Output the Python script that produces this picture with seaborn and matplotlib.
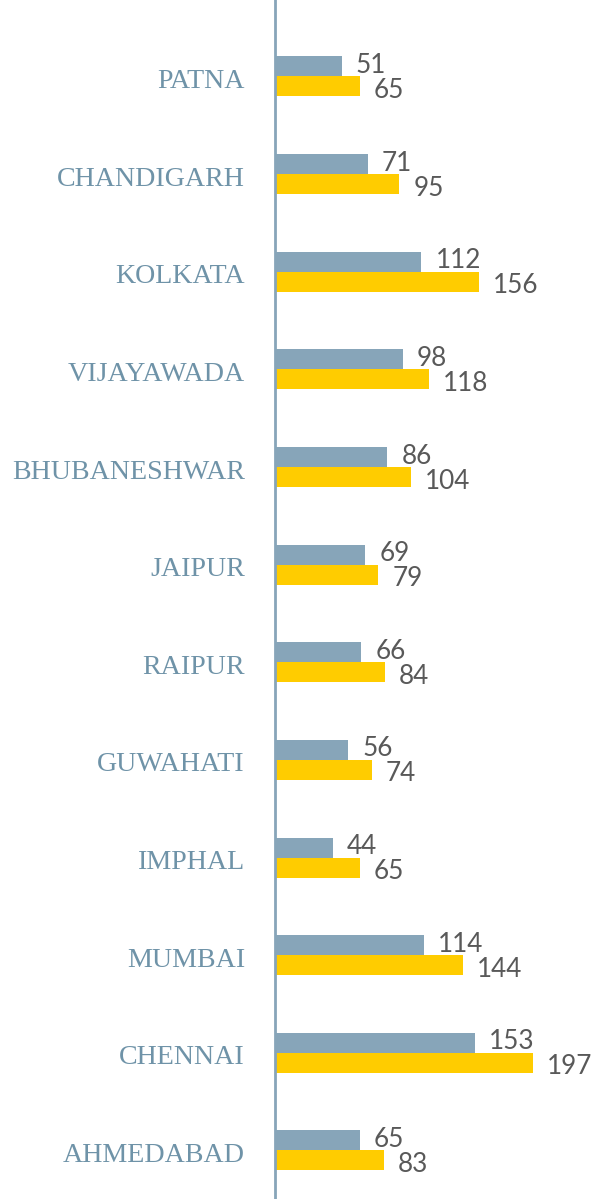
import matplotlib
matplotlib.use("Agg")
import matplotlib.pyplot as plt
import matplotlib.transforms as mtrans
import seaborn as sns
import pandas as pd

cities = ["PATNA", "CHANDIGARH", "KOLKATA", "VIJAYAWADA", "BHUBANESHWAR", "JAIPUR",
          "RAIPUR", "GUWAHATI", "IMPHAL", "MUMBAI", "CHENNAI", "AHMEDABAD"]
series_a = [51, 71, 112, 98, 86, 69, 66, 56, 44, 114, 153, 65]
series_b = [65, 95, 156, 118, 104, 79, 84, 74, 65, 144, 197, 83]
series_names = ["A", "B"]

df = pd.DataFrame({
    "city": cities * 2,
    "value": series_a + series_b,
    "series": [series_names[0]] * len(cities) + [series_names[1]] * len(cities),
})

GRAY = "#87A5B9"
YELLOW = "#FFCC00"

sns.set_theme(style="white")
fig = plt.figure(figsize=(6.05, 11.99), dpi=100)
ax = fig.add_axes([275 / 605, 0, 330 / 605, 1])

sns.barplot(data=df, x="value", y="city", hue="series", order=cities,
            hue_order=series_names, palette=[GRAY, YELLOW], width=0.41,
            orient="h", ax=ax, legend=False, saturation=1, linewidth=0)

ax.set_xlim(0, 252.3)
ax.set_ylim(11.497, -0.783)

for s in ["top", "right", "bottom"]:
    ax.spines[s].set_visible(False)
ax.spines["left"].set_color(GRAY)
ax.spines["left"].set_linewidth(2)
ax.set_xticks([])
ax.set_xlabel("")
ax.set_ylabel("")
ax.tick_params(axis="y", length=0, pad=21.6)
ax.set_yticks(range(len(cities)))
ax.set_yticklabels(cities, fontfamily="Liberation Serif", fontsize=20.2, color="#6F93A8")
for lab in ax.get_yticklabels():
    lab.set_transform(lab.get_transform() + mtrans.ScaledTranslation(0, -2.0 / 100, fig.dpi_scale_trans))

offsets = [0.7, -2.9]
for cont, dy in zip(ax.containers, offsets):
    for p in cont.patches:
        w = p.get_width()
        yc = p.get_y() + p.get_height() / 2
        ax.annotate(f"{w:.0f}", xy=(w, yc), xytext=(10.0, dy), textcoords="offset points",
                    ha="left", va="center", fontfamily="Lato", fontsize=18.8, color="#595959")

fig.savefig("out.png", dpi=100)
